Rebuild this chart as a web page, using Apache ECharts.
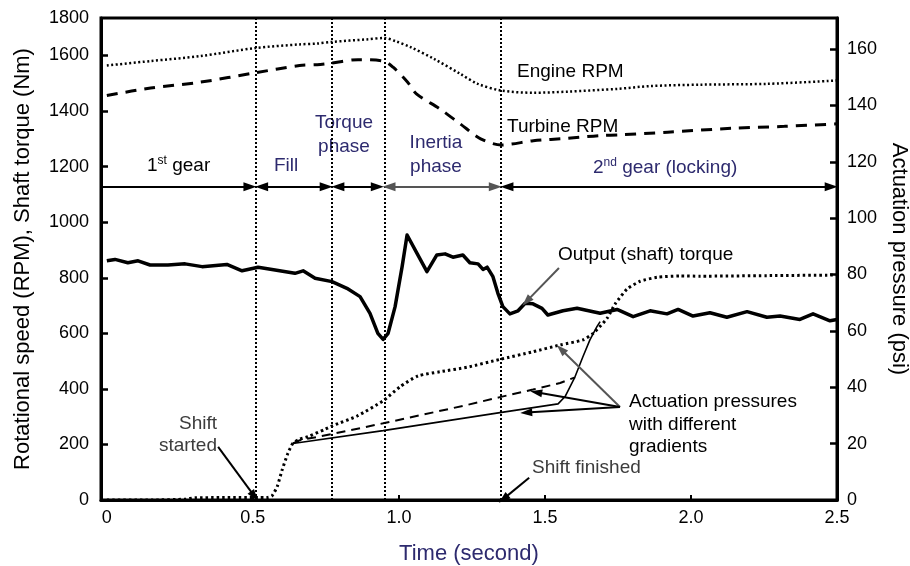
<!DOCTYPE html>
<html>
<head>
<meta charset="utf-8">
<script src="https://cdn.jsdelivr.net/npm/echarts@6/dist/echarts.min.js"></script>
<style>
  html, body { margin: 0; padding: 0; background: #fff; }
  #chart { width: 910px; height: 566px; }
</style>
</head>
<body>
<div id="chart"></div>
<script>
// Time axis (seconds) and tick labels
const xTickValues = [0, 0.5, 1, 1.5, 2, 2.5];
const xTickLabels = ['0', '0.5', '1.0', '1.5', '2.0', '2.5'];
const leftTickValues = [0, 200, 400, 600, 800, 1000, 1200, 1400, 1600];
const rightTickValues = [0, 20, 40, 60, 80, 100, 120, 140, 160];

// Engine speed, RPM  [time s, rpm]
const engineRpm = [
  [0, 1564], [0.15, 1580], [0.32, 1598], [0.51, 1627], [0.66, 1640], [0.72, 1643],
  [0.77, 1649], [0.89, 1658], [0.95, 1663], [0.99, 1651], [1.04, 1630], [1.12, 1588],
  [1.21, 1534], [1.27, 1498], [1.35, 1474], [1.46, 1466], [1.58, 1470], [1.75, 1480],
  [1.86, 1490], [2.03, 1495], [2.26, 1498], [2.5, 1510]
];

// Turbine speed, RPM
const turbineRpm = [
  [0, 1456], [0.15, 1483], [0.32, 1504], [0.51, 1538], [0.66, 1564], [0.72, 1567],
  [0.77, 1573], [0.86, 1585], [0.95, 1579], [0.98, 1558], [1.03, 1504], [1.06, 1462],
  [1.14, 1408], [1.21, 1354], [1.28, 1300], [1.35, 1278], [1.46, 1293], [1.58, 1302],
  [1.69, 1312], [1.75, 1314], [1.92, 1324], [2.14, 1338], [2.32, 1345], [2.5, 1354]
];

// Output shaft torque, Nm
const outputTorque = [
  [0, 861], [0.028, 866], [0.072, 854], [0.107, 861], [0.148, 846], [0.209, 846],
  [0.268, 850], [0.326, 840], [0.411, 848], [0.463, 825], [0.518, 838], [0.576, 828],
  [0.644, 816], [0.672, 825], [0.713, 798], [0.771, 786], [0.822, 762], [0.867, 732],
  [0.901, 672], [0.928, 600], [0.946, 578], [0.963, 600], [0.987, 696], [1.011, 840],
  [1.028, 954], [1.062, 888], [1.096, 822], [1.130, 882], [1.158, 886], [1.185, 874],
  [1.219, 882], [1.243, 854], [1.271, 850], [1.288, 830], [1.302, 838], [1.322, 804],
  [1.339, 744], [1.356, 696], [1.380, 670], [1.408, 681], [1.432, 708], [1.459, 706],
  [1.490, 690], [1.510, 666], [1.562, 681], [1.610, 690], [1.689, 672], [1.747, 686],
  [1.802, 660], [1.860, 681], [1.918, 670], [1.956, 686], [2.007, 662], [2.065, 674],
  [2.123, 658], [2.192, 678], [2.260, 658], [2.305, 662], [2.373, 650], [2.418, 670],
  [2.476, 645], [2.5, 650]
];

// Actuation pressures, psi (three ramp gradients)
const pressureSteep = [
  [0, 0], [0.155, 0], [0.27, 0.3], [0.3, 0.8], [0.55, 0.9], [0.565, 1.4], [0.583, 4.7],
  [0.6, 10.6], [0.62, 16.6], [0.637, 20.1], [0.661, 21.6], [0.689, 22.5], [0.747, 25.1],
  [0.774, 26.4], [0.857, 29.8], [0.946, 35.2], [1.004, 40.2], [1.065, 44], [1.141, 45.5],
  [1.233, 47.1], [1.346, 49.9], [1.459, 52.6], [1.552, 55], [1.63, 56.8], [1.665, 59.1],
  [1.713, 64.5], [1.74, 69.5], [1.781, 74.8], [1.826, 77.6], [1.884, 79], [1.963, 79.5],
  [2.031, 79.4], [2.26, 79.6], [2.5, 79.8]
];
const pressureMedium = [
  [0.637, 20.1], [0.661, 21.2], [0.771, 23.4], [0.946, 27.2], [1.233, 33.7],
  [1.346, 36.5], [1.459, 39.2], [1.552, 41.5], [1.603, 43.5]
];
const pressureGentle = [
  [0.637, 20.1], [0.661, 20.4], [0.946, 24.6], [1.346, 31], [1.545, 34.1],
  [1.569, 36.7], [1.603, 43.7], [1.63, 50.8], [1.654, 56.8], [1.678, 61.5], [1.689, 63.3]
];

// Shift phase boundaries (s): shift start, torque phase, inertia phase, shift end
const phaseBounds = [0.51, 0.771, 0.946, 1.35];

const FONT = '"Liberation Sans", Arial, Helvetica, sans-serif';
const NAVY = '#2d2a6e';
const GRAY = '#3c3c3c';
const X_MIN = -0.02, X_MAX = 2.5;
const LEFT_MAX = 1735, RIGHT_MAX = 171;
const ARROW_ROW = 1128;     // rpm level of the phase arrows
const INSET = 0.02;         // keeps arrow tips on the boundary lines

const spans = [[X_MIN, phaseBounds[0]], [phaseBounds[0], phaseBounds[1]],
  [phaseBounds[1], phaseBounds[2]], [phaseBounds[2], phaseBounds[3]], [phaseBounds[3], X_MAX]];

const head = { symbol: 'triangle', symbolSize: [9, 13] };
const phaseArrows = spans.map((s, i) => {
  const color = i === 3 ? '#555' : '#000';
  const from = i === 0 ? { coord: [s[0], ARROW_ROW], symbol: 'none' }
                       : { coord: [s[0] + INSET, ARROW_ROW], ...head };
  const to = { coord: [s[1] - INSET, ARROW_ROW], ...head };
  from.lineStyle = { color: color, width: 2, type: 'solid' };
  from.itemStyle = { color: color };
  to.itemStyle = { color: color };
  return [from, to];
});

function pointer(a, b, color) {
  return [
    { coord: a, symbol: 'none', lineStyle: { color: color, width: 2, type: 'solid' } },
    { coord: b, symbol: 'triangle', symbolSize: [8, 12], itemStyle: { color: color } }
  ];
}

const tickFont = { fontFamily: FONT, fontSize: 18, color: '#000' };

const chart = echarts.init(document.getElementById('chart'));
chart.setOption({
  animation: false,
  grid: { left: 101, right: 73, top: 18, bottom: 66, outerBoundsMode: 'none',
          show: true, borderColor: '#000', borderWidth: 3 },
  xAxis: {
    type: 'value', min: X_MIN, max: X_MAX,
    axisLine: { onZero: false, lineStyle: { color: '#000', width: 3 } },
    axisTick: { inside: true, length: 5, customValues: [0.5, 1, 1.5, 2], lineStyle: { color: '#000', width: 2 } },
    axisLabel: Object.assign({ customValues: xTickValues, margin: 9,
      formatter: v => xTickLabels[xTickValues.indexOf(v)] }, tickFont),
    splitLine: { show: false },
    name: 'Time (second)', nameLocation: 'middle', nameGap: 43,
    nameTextStyle: { fontFamily: FONT, fontSize: 22, color: NAVY }
  },
  yAxis: [{
    type: 'value', min: 0, max: LEFT_MAX, position: 'left',
    axisLine: { show: true, onZero: false, lineStyle: { color: '#000', width: 3 } },
    axisTick: { show: true, inside: true, length: 7, customValues: leftTickValues, lineStyle: { color: '#000', width: 2.5 } },
    axisLabel: Object.assign({ customValues: leftTickValues.concat([LEFT_MAX]), margin: 12,
      formatter: v => (v === LEFT_MAX ? '1800' : String(v)) }, tickFont),
    splitLine: { show: false },
    name: 'Rotational speed (RPM), Shaft torque (Nm)', nameLocation: 'middle', nameGap: 67,
    nameTextStyle: { fontFamily: FONT, fontSize: 22, color: '#000' }
  }, {
    type: 'value', min: 0, max: RIGHT_MAX, position: 'right',
    axisLine: { show: true, onZero: false, lineStyle: { color: '#000', width: 3 } },
    axisTick: { show: true, inside: true, length: 7, customValues: rightTickValues, lineStyle: { color: '#000', width: 2.5 } },
    axisLabel: Object.assign({ customValues: rightTickValues, margin: 10 }, tickFont),
    splitLine: { show: false },
    name: 'Actuation pressure (psi)', nameLocation: 'middle', nameGap: 51, nameRotate: -90,
    nameTextStyle: { fontFamily: FONT, fontSize: 22, color: '#000' }
  }],
  series: [
    {
      name: 'Engine RPM', type: 'line', data: engineRpm, yAxisIndex: 0, showSymbol: false, smooth: 0.3,
      lineStyle: { color: '#000', width: 2.5, type: [2, 2.5] }, silent: true
    },
    {
      name: 'Turbine RPM', type: 'line', data: turbineRpm, yAxisIndex: 0, showSymbol: false, smooth: 0.3,
      lineStyle: { color: '#000', width: 3, type: [11, 8] }, silent: true
    },
    {
      name: 'Output (shaft) torque', type: 'line', data: outputTorque, yAxisIndex: 0, showSymbol: false,
      lineStyle: { color: '#000', width: 3.5, join: 'round' }, silent: true
    },
    {
      name: 'Pressure A', type: 'line', data: pressureSteep, yAxisIndex: 1, showSymbol: false, smooth: 0.2,
      lineStyle: { color: '#000', width: 3, type: [2.5, 3] }, silent: true
    },
    {
      name: 'Pressure B', type: 'line', data: pressureMedium, yAxisIndex: 1, showSymbol: false,
      lineStyle: { color: '#000', width: 2, type: [9, 6] }, silent: true
    },
    {
      name: 'Pressure C', type: 'line', data: pressureGentle, yAxisIndex: 1, showSymbol: false,
      lineStyle: { color: '#000', width: 1.6 }, silent: true
    },
    {
      // phase boundaries and phase arrows
      name: 'phases', type: 'line', data: [], yAxisIndex: 0, silent: true,
      markLine: {
        silent: true, animation: false, label: { show: false },
        emphasis: { disabled: true },
        symbol: 'none',
        data: phaseBounds.map(x => ({ xAxis: x, lineStyle: { color: '#000', width: 2, type: [2, 2] } }))
          .concat(phaseArrows)
          .concat([
            pointer([0.381, 191], [0.505, 14], '#000'),
            pointer([1.446, 80], [1.358, 4], '#000'),
            pointer([1.548, 835], [1.437, 715], '#555')
          ])
      }
    },
    {
      // pointers to the three pressure ramps
      name: 'pressure pointers', type: 'line', data: [], yAxisIndex: 1, silent: true,
      markLine: {
        silent: true, animation: false, label: { show: false },
        emphasis: { disabled: true },
        symbol: 'none',
        data: [
          pointer([1.757, 33], [1.555, 53.5], '#555'),
          pointer([1.757, 33], [1.470, 38.2], '#000'),
          pointer([1.757, 33], [1.436, 31.0], '#000')
        ]
      }
    }
  ],
  graphic: [
    { type: 'text', x: 147, y: 166, style: {
        text: '{n|1}{s|st}{n| gear}', verticalAlign: 'middle',
        rich: { n: { fontFamily: FONT, fontSize: 19, fill: '#000', lineHeight: 22 },
                s: { fontFamily: FONT, fontSize: 12, fill: '#000', verticalAlign: 'top', lineHeight: 22 } } } },
    { type: 'text', x: 274, y: 166, style: { text: 'Fill', fontFamily: FONT, fontSize: 19, fill: NAVY, verticalAlign: 'middle' } },
    { type: 'text', x: 344, y: 135, style: { text: 'Torque\nphase', fontFamily: FONT, fontSize: 19, fill: NAVY,
        align: 'center', verticalAlign: 'middle', lineHeight: 24 } },
    { type: 'text', x: 436, y: 155, style: { text: 'Inertia\nphase', fontFamily: FONT, fontSize: 19, fill: NAVY,
        align: 'center', verticalAlign: 'middle', lineHeight: 24 } },
    { type: 'text', x: 593, y: 168, style: {
        text: '{n|2}{s|nd}{n| gear (locking)}', verticalAlign: 'middle',
        rich: { n: { fontFamily: FONT, fontSize: 19, fill: NAVY, lineHeight: 22 },
                s: { fontFamily: FONT, fontSize: 12, fill: NAVY, verticalAlign: 'top', lineHeight: 22 } } } },
    { type: 'text', x: 517, y: 72, style: { text: 'Engine RPM', fontFamily: FONT, fontSize: 19, fill: '#000', verticalAlign: 'middle' } },
    { type: 'text', x: 507, y: 127, style: { text: 'Turbine RPM', fontFamily: FONT, fontSize: 19, fill: '#000', verticalAlign: 'middle' } },
    { type: 'text', x: 558, y: 255, style: { text: 'Output (shaft) torque', fontFamily: FONT, fontSize: 19, fill: '#000', verticalAlign: 'middle' } },
    { type: 'text', x: 629, y: 424.5, style: { text: 'Actuation pressures\nwith different\ngradients', fontFamily: FONT,
        fontSize: 19, fill: '#000', verticalAlign: 'middle', lineHeight: 22.5 } },
    { type: 'text', x: 217, y: 435, style: { text: 'Shift\nstarted', fontFamily: FONT, fontSize: 19, fill: GRAY,
        align: 'right', verticalAlign: 'middle', lineHeight: 22 } },
    { type: 'text', x: 532, y: 468, style: { text: 'Shift finished', fontFamily: FONT, fontSize: 19, fill: GRAY, verticalAlign: 'middle' } }
  ]
});
</script>
</body>
</html>
